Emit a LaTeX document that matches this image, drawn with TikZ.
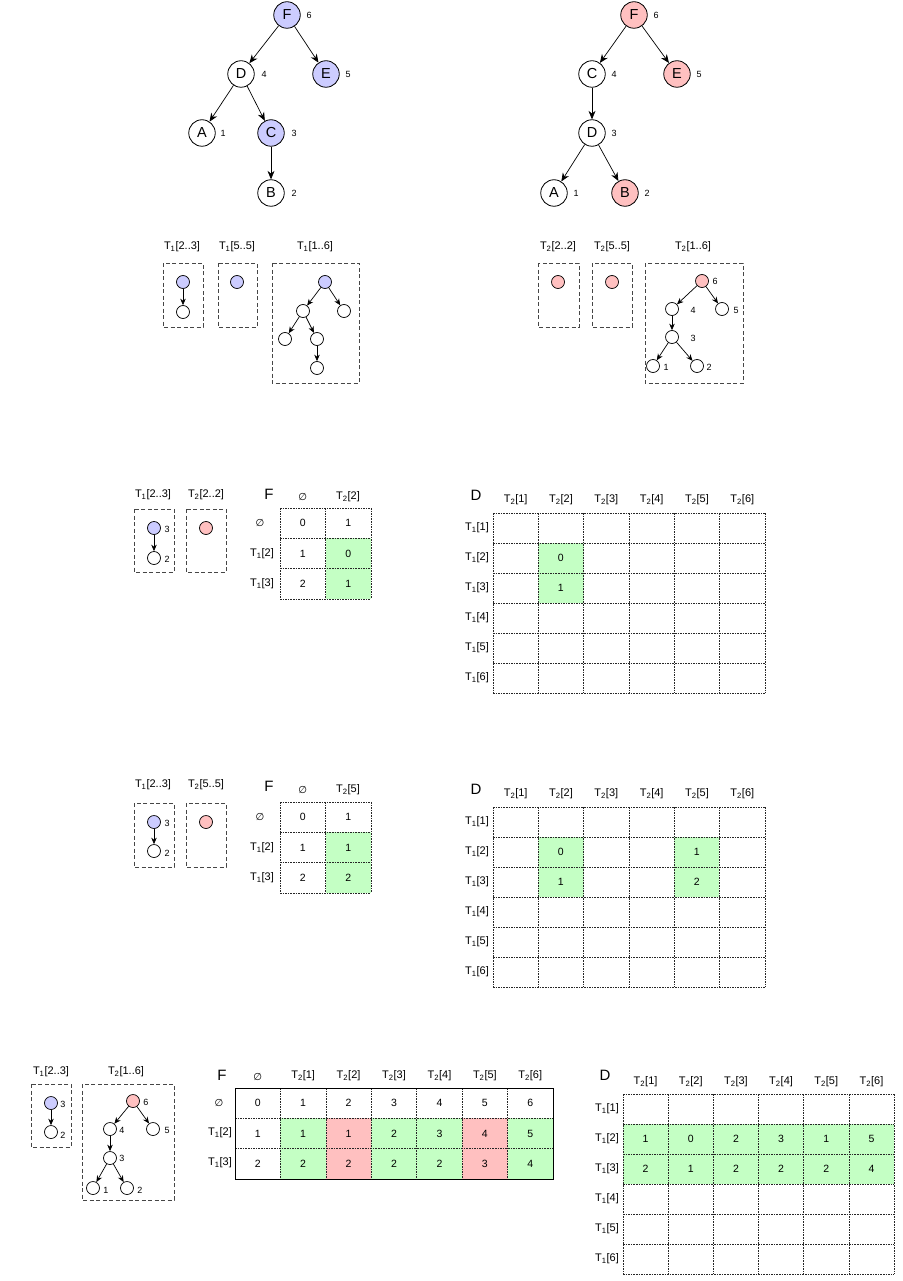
\documentclass[tikz,border=0pt]{standalone}
\usepackage{fontspec}
\setmainfont{Liberation Sans}
\newfontfamily\symf{DejaVu Sans}
\usetikzlibrary{arrows.meta}
\definecolor{blueF}{RGB}{204,204,255}
\definecolor{pinkF}{RGB}{255,192,192}
\definecolor{greenF}{RGB}{196,255,196}
\definecolor{boxgray}{RGB}{70,70,70}
\newcommand{\es}{{\symf\fontsize{10}{10}\selectfont\itshape ∅}}
\newcommand{\mygrid}[6]{%
  \foreach \i in {0,...,#3} \draw[gridline] ({#1+\i*#5},#2) -- ++(0,{#4*#6});
  \foreach \j in {0,...,#4} \draw[gridline] (#1,{#2+\j*#6}) -- ++({#3*#5},0);
}
\tikzset{
  bignode/.style={circle, draw, line width=0.8pt, minimum size=26.5pt, inner sep=0pt, font=\fontsize{14.5}{14.5}\selectfont},
  smallnode/.style={circle, draw, line width=0.7pt, minimum size=13pt, inner sep=0pt},
  numlab/.style={font=\fontsize{9}{9}\selectfont, inner sep=0pt},
  titlelab/.style={font=\fontsize{11}{11}\selectfont, inner sep=0pt},
  hdr/.style={font=\fontsize{11}{11}\selectfont, inner sep=0pt},
  val/.style={font=\fontsize{10.5}{10.5}\selectfont, inner sep=0pt},
  biglab/.style={font=\fontsize{15}{15}\selectfont, inner sep=0pt},
  bigarr/.style={-{Stealth[length=8.5pt,width=7pt]}, line width=0.7pt},
  smallarr/.style={-{Stealth[length=6.5pt,width=5.5pt]}, line width=0.7pt},
  dbox/.style={draw=boxgray, dash pattern=on 4pt off 2.5pt, line width=0.8pt},
  gridline/.style={draw=black!85, dash pattern=on 1.6pt off 1pt, line width=0.55pt},
}
\begin{document}
\begin{tikzpicture}[x=1pt,y=-1pt]
\useasboundingbox (0,0) rectangle (902,1281);
\fill[white] (0,0) rectangle (902,1281);

% ---------------- Top tree T1
\node[bignode,fill=blueF] (aF) at (287,15) {F};
\node[bignode] (aD) at (241,74) {D};
\node[bignode,fill=blueF] (aE) at (326,74) {E};
\node[bignode] (aA) at (202,133) {A};
\node[bignode,fill=blueF] (aC) at (271,133) {C};
\node[bignode] (aB) at (271,193) {B};
\node[numlab] (aF6) at (309,15) {6};
\node[numlab] (aD4) at (264,74) {4};
\node[numlab] (aE5) at (348,74) {5};
\node[numlab] (aA1) at (223,133) {1};
\node[numlab] (aC3) at (294,133) {3};
\node[numlab] (aB2) at (294,193) {2};
\draw[bigarr] (aF) -- (aD);
\draw[bigarr] (aF) -- (aE);
\draw[bigarr] (aD) -- (aA);
\draw[bigarr] (aD) -- (aC);
\draw[bigarr] (aC) -- (aB);

% ---------------- Top tree T2
\node[bignode,fill=pinkF] (bF) at (634,15) {F};
\node[bignode] (bC) at (592,74) {C};
\node[bignode,fill=pinkF] (bE) at (677,74) {E};
\node[bignode] (bD) at (592,133) {D};
\node[bignode] (bA) at (554,193) {A};
\node[bignode,fill=pinkF] (bB) at (625,193) {B};
\node[numlab] (bF6) at (656,15) {6};
\node[numlab] (bC4) at (614,74) {4};
\node[numlab] (bE5) at (699,74) {5};
\node[numlab] (bD3) at (614,133) {3};
\node[numlab] (bA1) at (576,193) {1};
\node[numlab] (bB2) at (647,193) {2};
\draw[bigarr] (bF) -- (bC);
\draw[bigarr] (bF) -- (bE);
\draw[bigarr] (bC) -- (bD);
\draw[bigarr] (bD) -- (bA);
\draw[bigarr] (bD) -- (bB);

% ---------------- Subtrees of T1
\node[titlelab] (t1a) at (182,247) {T\textsubscript{1}[2..3]};
\node[titlelab] (t1b) at (237,247) {T\textsubscript{1}[5..5]};
\node[titlelab] (t1c) at (315,247) {T\textsubscript{1}[1..6]};
\draw[dbox] (163,263) rectangle (203,327);
\draw[dbox] (218,263) rectangle (257,327);
\draw[dbox] (272,263) rectangle (359,383);
\node[smallnode,fill=blueF] (c1) at (183,282) {};
\node[smallnode] (c2) at (183,312) {};
\draw[smallarr] (c1) -- (c2);
\node[smallnode,fill=blueF] (c3) at (237,282) {};
\node[smallnode,fill=blueF] (c4) at (325,282) {};
\node[smallnode] (c5) at (303,311) {};
\node[smallnode] (c6) at (344,311) {};
\node[smallnode] (c7) at (285,339) {};
\node[smallnode] (c8) at (317,339) {};
\node[smallnode] (c9) at (317,368) {};
\draw[smallarr] (c4) -- (c5);
\draw[smallarr] (c4) -- (c6);
\draw[smallarr] (c5) -- (c7);
\draw[smallarr] (c5) -- (c8);
\draw[smallarr] (c8) -- (c9);

% ---------------- Subtrees of T2
\node[titlelab] (t2a) at (558,247) {T\textsubscript{2}[2..2]};
\node[titlelab] (t2b) at (612,247) {T\textsubscript{2}[5..5]};
\node[titlelab] (t2c) at (693,247) {T\textsubscript{2}[1..6]};
\draw[dbox] (538,263) rectangle (579,327);
\draw[dbox] (592,263) rectangle (632,327);
\draw[dbox] (645,263) rectangle (743,383);
\node[smallnode,fill=pinkF] (d1) at (558,282) {};
\node[smallnode,fill=pinkF] (d2) at (612,282) {};
\node[smallnode,fill=pinkF] (d3) at (702,281) {};
\node[smallnode] (d4) at (672,309) {};
\node[smallnode] (d5) at (722,309) {};
\node[smallnode] (d6) at (672,337) {};
\node[smallnode] (d7) at (653,366) {};
\node[smallnode] (d8) at (697,366) {};
\node[numlab] (d3l) at (715,281) {6};
\node[numlab] (d4l) at (693,310) {4};
\node[numlab] (d5l) at (736,310) {5};
\node[numlab] (d6l) at (693,338) {3};
\node[numlab] (d7l) at (666,367) {1};
\node[numlab] (d8l) at (709,367) {2};
\draw[smallarr] (d3) -- (d4);
\draw[smallarr] (d3) -- (d5);
\draw[smallarr] (d4) -- (d6);
\draw[smallarr] (d6) -- (d7);
\draw[smallarr] (d6) -- (d8);

% ================= Section 2
\node[titlelab] (s2a) at (153,495) {T\textsubscript{1}[2..3]};
\node[titlelab] (s2b) at (206,495) {T\textsubscript{2}[2..2]};
\draw[dbox] (134,509) rectangle (174,572);
\draw[dbox] (186,509) rectangle (226,572);
\node[smallnode,fill=blueF] (e1) at (154,528) {};
\node[smallnode] (e2) at (154,558) {};
\node[numlab] (e1l) at (167,529) {3};
\node[numlab] (e2l) at (167,559) {2};
\draw[smallarr] (e1) -- (e2);
\node[smallnode,fill=pinkF] (e3) at (206,528) {};
% F table
\fill[greenF] (325.5,538.3) rectangle (371,599);
\mygrid{280}{508}{2}{3}{45.5}{30.3}
\node[biglab] (s2F) at (269,494) {F};
\node[hdr] (s2h0) at (302.7,497) {\es};
\node[hdr] (s2h1) at (348,497) {T\textsubscript{2}[2]};
\node[hdr] (s2r0) at (260,523) {\es};
\node[hdr] (s2r1) at (262,554) {T\textsubscript{1}[2]};
\node[hdr] (s2r2) at (262,584) {T\textsubscript{1}[3]};
\foreach \v [count=\k] in {0,1,2} \node[val] (s2a\k) at (302.7,{508+(\k-0.5)*30.3}) {\v};
\foreach \v [count=\k] in {1,0,1} \node[val] (s2b\k) at (348.2,{508+(\k-0.5)*30.3}) {\v};
% D table
\fill[greenF] (538.3,543) rectangle (583.7,603);
\mygrid{493}{513}{6}{6}{45.33}{30}
\node[biglab] (s2D) at (476,495) {D};
\foreach \k in {1,...,6} {
  \node[hdr] (s2dh\k) at ({493+(\k-0.5)*45.33},500) {T\textsubscript{2}[\k]};
  \node[hdr] (s2dr\k) at (477,{513+(\k-0.5)*30}) {T\textsubscript{1}[\k]};
}
\node[val] (s2d1) at (560.7,558) {0};
\node[val] (s2d2) at (560.7,588) {1};

% ================= Section 3
\node[titlelab] (s3a) at (153,785) {T\textsubscript{1}[2..3]};
\node[titlelab] (s3b) at (206,785) {T\textsubscript{2}[5..5]};
\draw[dbox] (134,803) rectangle (174,867);
\draw[dbox] (186,803) rectangle (226,867);
\node[smallnode,fill=blueF] (f1) at (154,822) {};
\node[smallnode] (f2) at (154,851) {};
\node[numlab] (f1l) at (167,823) {3};
\node[numlab] (f2l) at (167,853) {2};
\draw[smallarr] (f1) -- (f2);
\node[smallnode,fill=pinkF] (f3) at (206,822) {};
% F table
\fill[greenF] (325.5,832.3) rectangle (371,893);
\mygrid{280}{802}{2}{3}{45.5}{30.3}
\node[biglab] (s3F) at (269,786) {F};
\node[hdr] (s3h0) at (302.7,790) {\es};
\node[hdr] (s3h1) at (348,790) {T\textsubscript{2}[5]};
\node[hdr] (s3r0) at (260,817) {\es};
\node[hdr] (s3r1) at (262,848) {T\textsubscript{1}[2]};
\node[hdr] (s3r2) at (262,878) {T\textsubscript{1}[3]};
\foreach \v [count=\k] in {0,1,2} \node[val] (s3a\k) at (302.7,{802+(\k-0.5)*30.3}) {\v};
\foreach \v [count=\k] in {1,1,2} \node[val] (s3b\k) at (348.2,{802+(\k-0.5)*30.3}) {\v};
% D table
\fill[greenF] (538.3,837) rectangle (583.7,897);
\fill[greenF] (674,837) rectangle (719.3,897);
\mygrid{493}{807}{6}{6}{45.33}{30}
\node[biglab] (s3D) at (476,789) {D};
\foreach \k in {1,...,6} {
  \node[hdr] (s3dh\k) at ({493+(\k-0.5)*45.33},794) {T\textsubscript{2}[\k]};
  \node[hdr] (s3dr\k) at (477,{807+(\k-0.5)*30}) {T\textsubscript{1}[\k]};
}
\node[val] (s3d1) at (560.7,852) {0};
\node[val] (s3d2) at (560.7,882) {1};
\node[val] (s3d3) at (696.7,852) {1};
\node[val] (s3d4) at (696.7,882) {2};

% ================= Section 4
\node[titlelab] (s4a) at (51,1072) {T\textsubscript{1}[2..3]};
\node[titlelab] (s4b) at (126,1072) {T\textsubscript{2}[1..6]};
\draw[dbox] (31,1084) rectangle (71,1147);
\draw[dbox] (82,1084) rectangle (174,1200);
\node[smallnode,fill=blueF] (g1) at (51,1103) {};
\node[smallnode] (g2) at (51,1132) {};
\node[numlab] (g1l) at (63,1104) {3};
\node[numlab] (g2l) at (63,1135) {2};
\draw[smallarr] (g1) -- (g2);
\node[smallnode,fill=pinkF] (h1) at (133,1101) {};
\node[smallnode] (h2) at (110,1129) {};
\node[smallnode] (h3) at (153,1129) {};
\node[smallnode] (h4) at (110,1158) {};
\node[smallnode] (h5) at (93,1188) {};
\node[smallnode] (h6) at (127,1188) {};
\node[numlab] (h1l) at (146,1102) {6};
\node[numlab] (h2l) at (122,1130) {4};
\node[numlab] (h3l) at (167,1130) {5};
\node[numlab] (h4l) at (122,1158) {3};
\node[numlab] (h5l) at (106,1190) {1};
\node[numlab] (h6l) at (140,1190) {2};
\draw[smallarr] (h1) -- (h2);
\draw[smallarr] (h1) -- (h3);
\draw[smallarr] (h2) -- (h4);
\draw[smallarr] (h4) -- (h5);
\draw[smallarr] (h4) -- (h6);
% F table (7 columns)
\foreach \c/\col in {1/greenF,2/pinkF,3/greenF,4/greenF,5/pinkF,6/greenF}
  \fill[\col] ({235+\c*45.43},1118.3) rectangle ({235+(\c+1)*45.43},1179);
\mygrid{235}{1088}{7}{3}{45.43}{30.3}
\draw[line width=0.8pt] (235,1088) rectangle (553,1179);
\node[biglab] (s4F) at (222,1075) {F};
\node[hdr] (s4h0) at (257.7,1077) {\es};
\foreach \k in {1,...,6}
  \node[hdr] (s4h\k) at ({235+(\k+0.5)*45.43},1076) {T\textsubscript{2}[\k]};
\node[hdr] (s4r0) at (219,1103) {\es};
\node[hdr] (s4r1) at (220,1133) {T\textsubscript{1}[2]};
\node[hdr] (s4r2) at (220,1163) {T\textsubscript{1}[3]};
\foreach \v [count=\k from 0] in {0,1,2,3,4,5,6}
  \node[val] (s4a\k) at ({235+(\k+0.5)*45.43},1103.2) {\v};
\foreach \v [count=\k from 0] in {1,1,1,2,3,4,5}
  \node[val] (s4b\k) at ({235+(\k+0.5)*45.43},1133.5) {\v};
\foreach \v [count=\k from 0] in {2,2,2,2,2,3,4}
  \node[val] (s4c\k) at ({235+(\k+0.5)*45.43},1163.8) {\v};
% D table
\fill[greenF] (623,1124) rectangle (894,1184);
\mygrid{623}{1094}{6}{6}{45.17}{30}
\node[biglab] (s4D) at (605,1075) {D};
\foreach \k in {1,...,6} {
  \node[hdr] (s4dh\k) at ({623+(\k-0.5)*45.17},1082) {T\textsubscript{2}[\k]};
  \node[hdr] (s4dr\k) at (607,{1094+(\k-0.5)*30}) {T\textsubscript{1}[\k]};
}
\foreach \v [count=\k] in {1,0,2,3,1,5}
  \node[val] (s4e\k) at ({623+(\k-0.5)*45.17},1139) {\v};
\foreach \v [count=\k] in {2,1,2,2,2,4}
  \node[val] (s4f\k) at ({623+(\k-0.5)*45.17},1169) {\v};
\end{tikzpicture}
\end{document}
